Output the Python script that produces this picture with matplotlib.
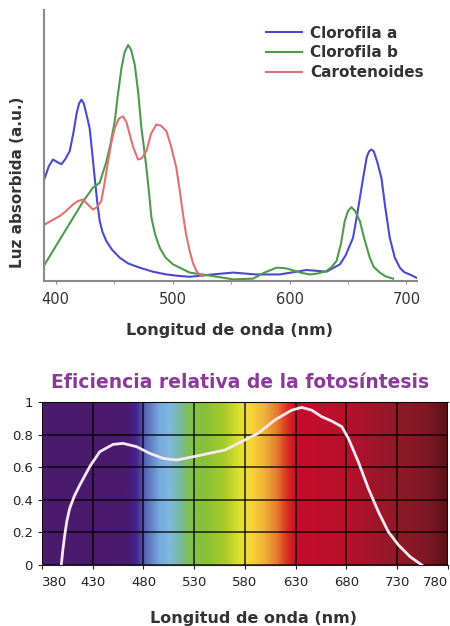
import numpy as np
import matplotlib
matplotlib.use("Agg")
import matplotlib.pyplot as plt
from matplotlib.colors import LinearSegmentedColormap

# absorption spectra (a.u. with chl b peak = 1)
chla_nm = [390.6, 394.0, 397.7, 401.0, 404.9, 408.0, 412.0, 415.0, 418.0, 420.0, 422.0, 424.0,
           426.0, 429.0, 431.0, 433.4, 435.5, 437.6, 440.0, 443.3, 448.0, 454.7, 462.0, 471.9,
           483.0, 494.7, 505.0, 514.6, 534.0, 551.7, 571.7, 591.6, 614.5, 631.6, 643.0, 648.0,
           654.3, 658.0, 662.9, 666.0, 668.0, 670.0, 672.0, 675.0, 678.6, 682.0, 685.7, 690.0,
           694.3, 698.0, 702.8, 708.5]
chla_val = [0.43, 0.48, 0.51, 0.50, 0.49, 0.51, 0.546, 0.62, 0.71, 0.75, 0.766, 0.75,
            0.71, 0.645, 0.55, 0.43, 0.33, 0.248, 0.20, 0.161, 0.125, 0.09, 0.065, 0.047,
            0.03, 0.018, 0.012, 0.008, 0.018, 0.026, 0.018, 0.018, 0.037, 0.03, 0.061, 0.10,
            0.175, 0.28, 0.43, 0.52, 0.545, 0.553, 0.545, 0.50, 0.43, 0.30, 0.175, 0.09,
            0.047, 0.028, 0.018, 0.004]

chlb_nm = [390.6, 406.3, 423.4, 431.9, 437.6, 443.3, 447.0, 450.5, 453.0, 456.2, 459.0, 461.9,
           464.5, 467.6, 470.5, 473.3, 475.5, 477.6, 480.0, 481.9, 485.0, 489.0, 494.0, 500.4,
           514.6, 534.6, 551.7, 568.8, 578.0, 588.8, 596.0, 603.0, 610.0, 617.3, 624.0, 631.6,
           636.0, 640.2, 644.0, 647.2, 650.0, 652.9, 656.0, 660.1, 664.0, 668.6, 672.0, 677.2,
           682.0, 688.6]
chlb_val = [0.061, 0.19, 0.33, 0.39, 0.41, 0.50, 0.58, 0.674, 0.78, 0.90, 0.97, 1.0,
            0.98, 0.916, 0.80, 0.645, 0.56, 0.474, 0.36, 0.26, 0.19, 0.132, 0.09, 0.061,
            0.026, 0.011, -0.003, 0.0, 0.025, 0.047, 0.045, 0.036, 0.025, 0.018, 0.022, 0.033,
            0.05, 0.076, 0.15, 0.247, 0.29, 0.306, 0.29, 0.247, 0.17, 0.09, 0.05, 0.026,
            0.01, 0.0]

carot_nm = [390.6, 397.0, 403.4, 409.0, 414.8, 419.0, 423.4, 427.0, 431.9, 435.0, 439.0, 441.5,
            444.7, 447.5, 450.5, 454.0, 457.6, 460.5, 463.3, 466.5, 470.4, 473.5, 477.6, 481.5,
            486.1, 490.0, 494.7, 498.5, 503.2, 506.0, 508.9, 511.5, 514.6, 517.5, 520.4, 523.0,
            526.0]
carot_val = [0.232, 0.25, 0.268, 0.29, 0.318, 0.332, 0.339, 0.32, 0.296, 0.305, 0.332, 0.40,
             0.50, 0.58, 0.645, 0.685, 0.695, 0.67, 0.617, 0.56, 0.51, 0.515, 0.546, 0.62,
             0.66, 0.655, 0.631, 0.57, 0.474, 0.38, 0.275, 0.19, 0.118, 0.065, 0.033, 0.018,
             0.011]

# relative photosynthetic efficiency
eff_nm = [399.0, 400.5, 402.4, 404.5, 407.3, 412.0, 417.2, 427.0, 436.9, 450.0, 459.9, 473.1,
          486.2, 499.3, 512.5, 528.9, 548.6, 560.2, 579.9, 593.0, 609.5, 626.0, 635.8, 645.7,
          655.5, 665.4, 675.3, 681.8, 691.6, 701.5, 711.4, 721.2, 731.1, 742.6, 754.2]
eff_val = [0.0, 0.09, 0.184, 0.27, 0.348, 0.425, 0.49, 0.603, 0.695, 0.74, 0.746, 0.726,
           0.685, 0.654, 0.644, 0.664, 0.69, 0.705, 0.767, 0.808, 0.89, 0.95, 0.967, 0.95,
           0.91, 0.883, 0.849, 0.777, 0.634, 0.47, 0.327, 0.204, 0.123, 0.051, 0.0]

top_ticks = [400, 500, 600, 700]
bottom_xticks = list(range(380, 781, 50))
bottom_yticks = [0, 0.2, 0.4, 0.6, 0.8, 1]
bottom_ylabels = ["0", "0.2", "0.4", "0.6", "0.8", "1"]

# visible spectrum background (nm, colour)
spectrum = [(380, "#4b1a6c"), (462, "#4a1a70"), (472, "#45238a"), (482, "#5a6ab8"),
            (495, "#78a8dc"), (505, "#80b8e0"), (515, "#78b8a8"), (525, "#80c050"),
            (540, "#88c038"), (560, "#a8cc28"), (575, "#e0e030"), (585, "#f5d838"),
            (600, "#f0b038"), (612, "#e87830"), (622, "#d83020"), (630, "#c80c2c"),
            (680, "#b8102c"), (720, "#981828"), (760, "#801824"), (780, "#5c1018")]

txt = "#333333"

fig = plt.figure(figsize=(4.5, 6.26), dpi=100)

# ---- absorption chart ----
ax = fig.add_axes([44/450, 1 - 281/626, 373/450, 271/626])
ax.plot(chla_nm, chla_val, color="#4a4ad0", lw=1.5, label="Clorofila a", solid_joinstyle="round")
ax.plot(chlb_nm, chlb_val, color="#4f9a4f", lw=1.5, label="Clorofila b", solid_joinstyle="round")
ax.plot(carot_nm, carot_val, color="#e07272", lw=1.5, label="Carotenoides", solid_joinstyle="round")
ax.set_xlim(390, 709)
ax.set_ylim(-0.01, 1.15)
ax.set_xticks(top_ticks)
ax.set_xticks(range(400, 701, 50), minor=True)
ax.set_yticks([])
for s in ["top", "right"]:
    ax.spines[s].set_visible(False)
for s in ["left", "bottom"]:
    ax.spines[s].set_color("#8a8a8a")
    ax.spines[s].set_linewidth(1.5)
ax.tick_params(axis="x", which="both", length=2, color="#8a8a8a", labelsize=10.5,
               labelcolor=txt, pad=6)
ax.legend(loc="upper left", bbox_to_anchor=(252/450, 1 - 12/626), bbox_transform=fig.transFigure,
          frameon=False, handlelength=2.4, handletextpad=0.5, labelspacing=0.3,
          prop={"weight": "bold", "size": 11}, labelcolor=txt)
fig.text(18/450, 1 - 182/626, "Luz absorbida (a.u.)", rotation=90, ha="center", va="center",
         fontsize=11, fontweight="bold", color=txt)
fig.text(230/450, 1 - 330/626, "Longitud de onda (nm)", ha="center", va="center",
         fontsize=11.5, fontweight="bold", color=txt)

# ---- efficiency chart ----
ax2 = fig.add_axes([42/450, 1 - 565/626, 406/450, 163/626])
pos = [(nm - 380) / 400 for nm, c in spectrum]
cols = [c for nm, c in spectrum]
cmap = LinearSegmentedColormap.from_list("spec", list(zip(pos, cols)))
ax2.imshow(np.linspace(0, 1, 400)[np.newaxis, :], extent=[380, 780, 0, 1], aspect="auto",
           cmap=cmap, zorder=0)
ax2.plot(eff_nm, eff_val, color="#f8e8f2", lw=2, zorder=3, solid_joinstyle="round")
ax2.set_xlim(380, 780)
ax2.set_ylim(0, 1)
ax2.set_xticks(bottom_xticks)
ax2.set_yticks(bottom_yticks)
ax2.set_yticklabels(bottom_ylabels)
ax2.grid(color="black", lw=1.1, alpha=0.85, zorder=2)
ax2.set_axisbelow(False)
for s in ["left", "right"]:
    ax2.spines[s].set_visible(False)
ax2.spines["top"].set_color("#222222")
ax2.spines["bottom"].set_color("#222222")
ax2.tick_params(length=3, color="#222222", labelsize=9.5, labelcolor="#222222")
ax2.tick_params(axis="x", pad=5)
xl = ax2.get_xticklabels()
xl[0].set_horizontalalignment("left")
xl[-1].set_horizontalalignment("right")
fig.text(240/450, 1 - 382/626, "Eficiencia relativa de la fotosíntesis", ha="center", va="center",
         fontsize=13.5, fontweight="bold", color="#8b3a9a")
fig.text(254/450, 1 - 619/626, "Longitud de onda (nm)", ha="center", va="center",
         fontsize=11.5, fontweight="bold", color=txt)

fig.savefig("out.png", dpi=100)
